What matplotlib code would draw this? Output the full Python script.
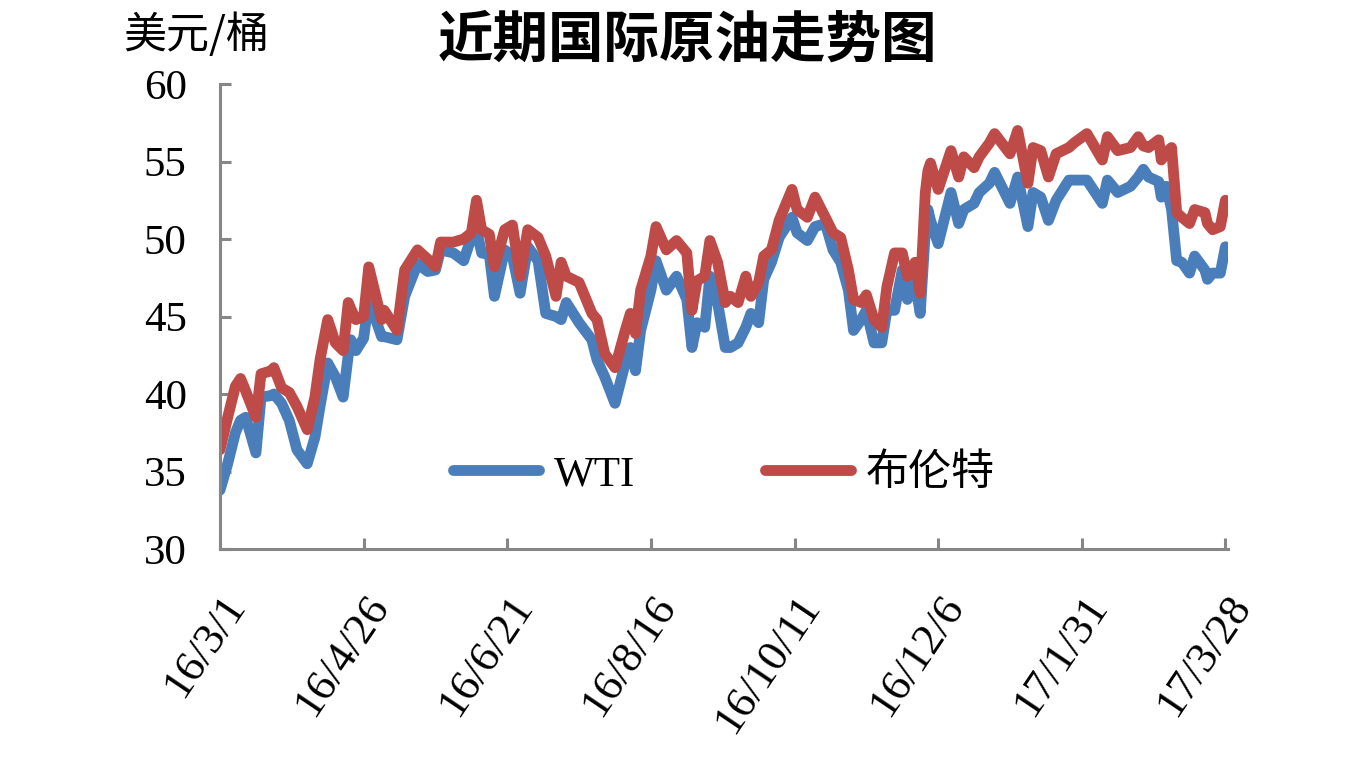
import pandas as pd
import matplotlib
matplotlib.use("Agg")
import matplotlib.pyplot as plt

plt.rcParams['font.family'] = ['Liberation Serif', 'Noto Sans CJK SC', 'DejaVu Sans']

dates = [
    '2016-03-01', '2016-03-04', '2016-03-07', '2016-03-09', '2016-03-11', '2016-03-15',
    '2016-03-17', '2016-03-21', '2016-03-22', '2016-03-25', '2016-03-28', '2016-03-31',
    '2016-04-04', '2016-04-07', '2016-04-09', '2016-04-12', '2016-04-15', '2016-04-18',
    '2016-04-20', '2016-04-21', '2016-04-23', '2016-04-26', '2016-04-28', '2016-05-03',
    '2016-05-04', '2016-05-09', '2016-05-12', '2016-05-17', '2016-05-21', '2016-05-24',
    '2016-05-26', '2016-05-31', '2016-06-04', '2016-06-07', '2016-06-09', '2016-06-11',
    '2016-06-14', '2016-06-16', '2016-06-20', '2016-06-23', '2016-06-26', '2016-06-29',
    '2016-07-03', '2016-07-06', '2016-07-10', '2016-07-12', '2016-07-14', '2016-07-19',
    '2016-07-24', '2016-07-26', '2016-07-29', '2016-08-02', '2016-08-06', '2016-08-08',
    '2016-08-10', '2016-08-12', '2016-08-16', '2016-08-18', '2016-08-22', '2016-08-26',
    '2016-08-30', '2016-09-01', '2016-09-03', '2016-09-06', '2016-09-08', '2016-09-11',
    '2016-09-14', '2016-09-16', '2016-09-19', '2016-09-22', '2016-09-24', '2016-09-27',
    '2016-09-29', '2016-10-02', '2016-10-05', '2016-10-10', '2016-10-12', '2016-10-16',
    '2016-10-19', '2016-10-23', '2016-10-26', '2016-10-29', '2016-11-01', '2016-11-03',
    '2016-11-06', '2016-11-08', '2016-11-11', '2016-11-14', '2016-11-16', '2016-11-19',
    '2016-11-22', '2016-11-24', '2016-11-27', '2016-11-29', '2016-12-01', '2016-12-02',
    '2016-12-03', '2016-12-06', '2016-12-11', '2016-12-14', '2016-12-16', '2016-12-20',
    '2016-12-22', '2016-12-26', '2016-12-28', '2017-01-03', '2017-01-06', '2017-01-10',
    '2017-01-12', '2017-01-15', '2017-01-18', '2017-01-21', '2017-01-26', '2017-01-28',
    '2017-02-02', '2017-02-08', '2017-02-10', '2017-02-14', '2017-02-19', '2017-02-22',
    '2017-02-24', '2017-02-26', '2017-03-02', '2017-03-03', '2017-03-05', '2017-03-07',
    '2017-03-09', '2017-03-11', '2017-03-14', '2017-03-16', '2017-03-20', '2017-03-21',
    '2017-03-23', '2017-03-26', '2017-03-28',
]

wti = [
    33.8, 35.5, 37.5, 38.3, 38.5, 36.2,
    39.8, 39.9, 40.0, 39.4, 38.3, 36.4,
    35.5, 37.2, 39.2, 42.0, 41.1, 39.8,
    42.5, 43.5, 42.8, 43.6, 46.1, 43.7,
    43.7, 43.5, 46.3, 48.4, 47.9, 48.0,
    49.3, 49.1, 48.6, 50.1, 50.6, 49.1,
    49.0, 46.3, 49.3, 48.9, 46.5, 49.5,
    48.6, 45.2, 45.0, 44.8, 45.9, 44.6,
    43.5, 42.2, 41.1, 39.4, 42.0, 43.0,
    41.5, 44.1, 46.7, 48.6, 46.7, 47.6,
    46.1, 43.0, 44.6, 44.3, 47.6, 45.9,
    43.0, 43.0, 43.3, 44.3, 45.2, 44.6,
    47.4, 48.5, 50.1, 51.4, 50.4, 49.9,
    50.8, 51.0, 49.3, 48.5, 46.7, 44.1,
    44.8, 45.4, 43.3, 43.3, 45.4, 45.4,
    48.0, 46.1, 47.2, 45.2, 50.5, 51.9,
    51.2, 49.7, 53.0, 51.0, 51.9, 52.3,
    53.0, 53.6, 54.3, 52.3, 54.0, 50.8,
    53.0, 52.7, 51.2, 52.5, 53.8, 53.8,
    53.8, 52.3, 53.8, 53.0, 53.4, 54.0,
    54.5, 54.0, 53.7, 52.7, 53.4, 51.9,
    48.6, 48.5, 47.8, 48.9, 48.0, 47.4,
    47.8, 47.8, 49.5,
]

brent = [
    36.4, 38.5, 40.5, 41.0, 40.2, 38.5,
    41.3, 41.5, 41.7, 40.4, 40.1, 39.2,
    37.7, 39.8, 42.2, 44.8, 43.3, 42.8,
    45.9, 45.5, 44.8, 45.0, 48.2, 44.8,
    45.4, 44.1, 48.0, 49.3, 48.7, 48.2,
    49.8, 49.8, 50.0, 50.4, 52.5, 50.6,
    50.3, 48.2, 50.6, 50.9, 47.6, 50.6,
    50.1, 48.9, 46.3, 48.5, 47.6, 47.2,
    45.2, 44.8, 42.6, 41.7, 44.1, 45.2,
    43.9, 46.7, 48.9, 50.8, 49.3, 49.9,
    49.1, 45.4, 47.3, 47.6, 49.9, 48.5,
    45.9, 46.3, 45.9, 47.6, 46.3, 47.2,
    48.9, 49.3, 51.2, 53.2, 51.9, 51.4,
    52.7, 51.4, 50.4, 50.1, 48.0, 46.1,
    45.9, 46.4, 44.8, 44.3, 46.9, 49.1,
    49.1, 47.6, 48.5, 46.5, 53.0, 54.4,
    54.9, 53.2, 55.7, 54.0, 55.3, 54.6,
    55.3, 56.2, 56.8, 55.5, 57.0, 53.6,
    55.9, 55.7, 54.0, 55.5, 55.9, 56.2,
    56.8, 55.1, 56.6, 55.7, 55.9, 56.6,
    56.0, 55.9, 56.4, 55.1, 55.6, 55.9,
    51.7, 51.4, 51.0, 51.9, 51.7, 51.0,
    50.6, 50.8, 52.5,
]

tick_dates = ['2016-03-01', '2016-04-26', '2016-06-21', '2016-08-16',
              '2016-10-11', '2016-12-06', '2017-01-31', '2017-03-28']
tick_labels = ['16/3/1', '16/4/26', '16/6/21', '16/8/16',
               '16/10/11', '16/12/6', '17/1/31', '17/3/28']

x = pd.to_datetime(dates)

fig = plt.figure(figsize=(13.69, 7.70), dpi=100)
ax = fig.add_axes([0.1607, 0.287, 0.7363, 0.6039])

ax.plot(x, wti, color='#4A7EBB', lw=7.8, solid_joinstyle='round',
        solid_capstyle='round', label='WTI')
ax.plot(x, brent, color='#BE4B48', lw=7.8, solid_joinstyle='round',
        solid_capstyle='round', label='布伦特')

ax.set_ylim(30, 60)
ax.set_yticks(range(30, 61, 5))
ax.set_xlim(pd.Timestamp('2016-03-01'), pd.Timestamp('2017-03-29'))
ax.set_xticks(pd.to_datetime(tick_dates))
ax.set_xticklabels(tick_labels, rotation=56, ha='right', va='top',
                   rotation_mode='anchor')

for s in ['top', 'right']:
    ax.spines[s].set_visible(False)
for s in ['left', 'bottom']:
    ax.spines[s].set_color('#868686')
    ax.spines[s].set_linewidth(2.2)

ax.tick_params(axis='both', direction='in', length=8, width=2.2,
               color='#868686')
ax.tick_params(axis='y', pad=24, labelsize=31)
ax.tick_params(axis='x', pad=28, labelsize=32)

ax.legend(loc='center', bbox_to_anchor=(0.5, 0.16), ncol=2, frameon=False,
          fontsize=31, handlelength=2.0, handletextpad=0.35, columnspacing=3.0)

fig.text(0.502, 0.947, '近期国际原油走势图', ha='center', va='center',
         fontsize=40, fontweight='bold', family=['Noto Sans CJK SC'])
fig.text(0.09, 0.953, '美元/桶', ha='left', va='center', fontsize=31,
         family=['Noto Sans CJK SC'])

fig.savefig('out.png', dpi=100)
